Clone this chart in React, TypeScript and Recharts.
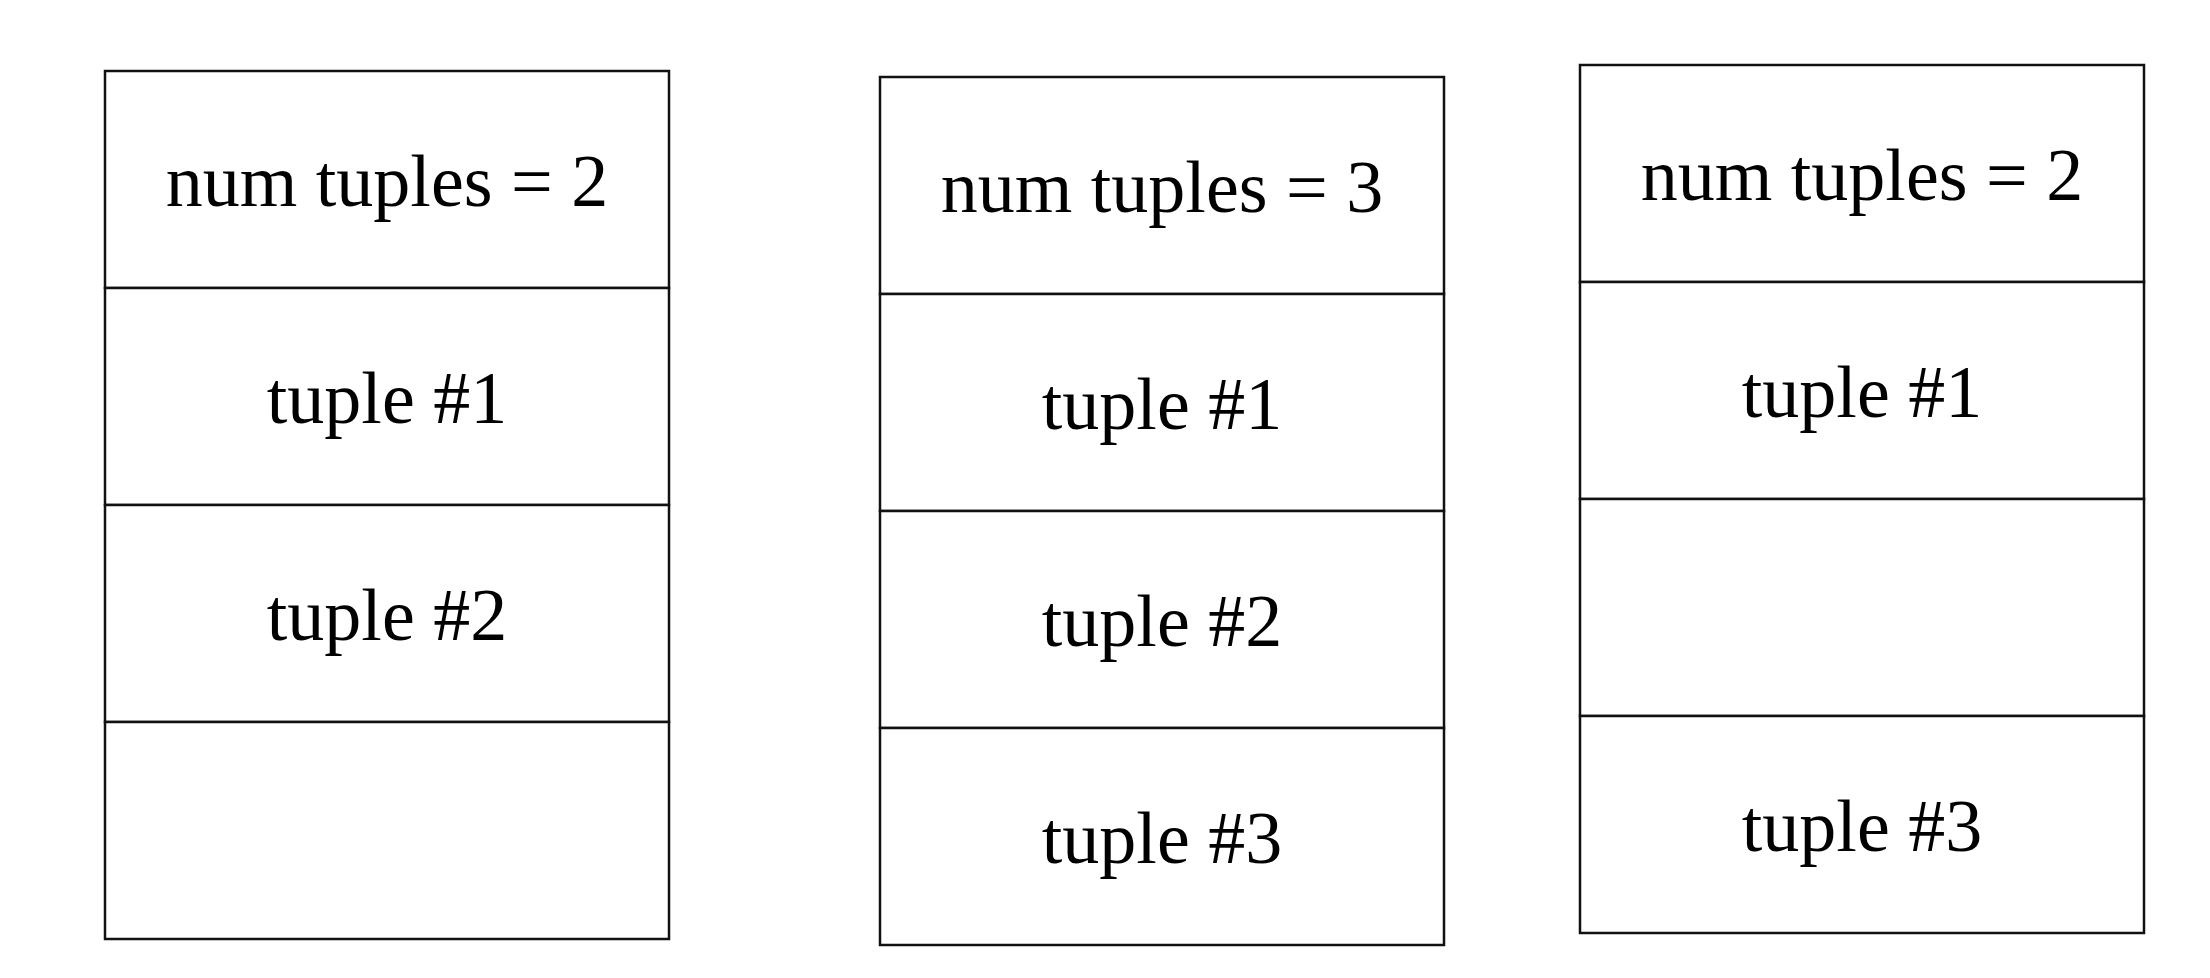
import { ScatterChart, Scatter, XAxis, YAxis, ReferenceArea } from "recharts";

// slot contents of the three pages
const page1 = ["num tuples = 2", "tuple #1", "tuple #2", ""];
const page2 = ["num tuples = 3", "tuple #1", "tuple #2", "tuple #3"];
const page3 = ["num tuples = 2", "tuple #1", "", "tuple #3"];
const pages = [page1, page2, page3];

// page frames in axis units (left, top) and slot size
const pageLeft = [105, 880, 1580];
const pageTop = [71, 77, 65];
const slotW = 564;
const slotH = 217;

// invisible anchor points so the chart has a plotting area
const anchors = [
    { x: 0, y: 0 },
    { x: 2210, y: 978 },
];

export default function App() {
    const areas = pages.flatMap((slots, p) =>
        slots.map((label, s) => ({
            key: `${p}-${s}`,
            x1: pageLeft[p],
            x2: pageLeft[p] + slotW,
            y1: pageTop[p] + s * slotH,
            y2: pageTop[p] + (s + 1) * slotH,
            label,
        }))
    );

    return (
        <div style={{ margin: -8, width: 2210, height: 978, background: "#fff" }}>
            <ScatterChart width={2210} height={978} margin={{ top: 0, right: 0, bottom: 0, left: 0 }}>
                <XAxis type="number" dataKey="x" domain={[0, 2210]} hide allowDataOverflow />
                <YAxis type="number" dataKey="y" domain={[0, 978]} reversed hide allowDataOverflow />
                <Scatter data={anchors} fill="none" shape={() => <g />} isAnimationActive={false} />
                {areas.map((a) => (
                    <ReferenceArea
                        key={a.key}
                        x1={a.x1}
                        x2={a.x2}
                        y1={a.y1}
                        y2={a.y2}
                        fill="#fff"
                        fillOpacity={1}
                        stroke="#111"
                        strokeWidth={2.5}
                        ifOverflow="visible"
                        label={{
                            value: a.label,
                            position: "center",
                            fill: "#000",
                            fontSize: 74,
                            fontFamily: "Liberation Serif, serif",
                        }}
                    />
                ))}
            </ScatterChart>
        </div>
    );
}
